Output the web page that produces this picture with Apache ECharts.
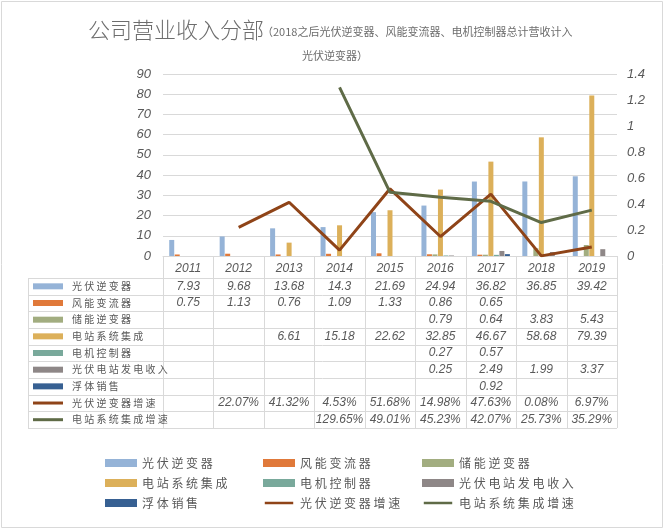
<!DOCTYPE html>
<html>
<head>
<meta charset="utf-8">
<script src="https://cdn.jsdelivr.net/npm/echarts@6/dist/echarts.min.js"></script>
<style>
  html, body { margin: 0; padding: 0; background: #fff; }
  #main { width: 665px; height: 531px; }
</style>
</head>
<body>
<div id="main"></div>
<script>
(function () {
  // 数据
  let years = ["2011", "2012", "2013", "2014", "2015", "2016", "2017", "2018", "2019"];
  let pvInverter = [7.93, 9.68, 13.68, 14.3, 21.69, 24.94, 36.82, 36.85, 39.42];
  let windConverter = [0.75, 1.13, 0.76, 1.09, 1.33, 0.86, 0.65, null, null];
  let storageInverter = [null, null, null, null, null, 0.79, 0.64, 3.83, 5.43];
  let stationIntegration = [null, null, 6.61, 15.18, 22.62, 32.85, 46.67, 58.68, 79.39];
  let motorController = [null, null, null, null, null, 0.27, 0.57, null, null];
  let pvPowerIncome = [null, null, null, null, null, 0.25, 2.49, 1.99, 3.37];
  let floatSales = [null, null, null, null, null, null, 0.92, null, null];
  let pvGrowth = [null, 0.2207, 0.4132, 0.0453, 0.5168, 0.1498, 0.4763, 0.0008, 0.0697];
  let stationGrowth = [null, null, null, 1.2965, 0.4901, 0.4523, 0.4207, 0.2573, 0.3529];
  let leftTicks = [0, 90, 10];
  let rightTicks = [0, 1.4, 0.2];

  let rows = [
    { name: "光伏逆变器", color: "#95b3d7", type: "bar", data: pvInverter },
    { name: "风能变流器", color: "#e0793a", type: "bar", data: windConverter },
    { name: "储能逆变器", color: "#a2ad80", type: "bar", data: storageInverter },
    { name: "电站系统集成", color: "#dcb05a", type: "bar", data: stationIntegration },
    { name: "电机控制器", color: "#79a99b", type: "bar", data: motorController },
    { name: "光伏电站发电收入", color: "#8e8787", type: "bar", data: pvPowerIncome },
    { name: "浮体销售", color: "#376092", type: "bar", data: floatSales },
    { name: "光伏逆变器增速", color: "#8f4418", type: "line", data: pvGrowth },
    { name: "电站系统集成增速", color: "#5f6b47", type: "line", data: stationGrowth }
  ];

  // 布局
  let gridLeft = 163, gridRight = 617, gridTop = 74, gridBottom = 256;
  let tableLeft = 28, headerBottom = 278, rowH = 16.67;
  let colW = (gridRight - gridLeft) / years.length;
  let lineColor = "#d9d9d9";
  let textColor = "#595959";
  let cnFont = "Noto Sans CJK SC";
  let numFont = "Liberation Sans";
  // 折线图例：细横条（上下两个空点撑开包围盒）
  let thinLineIcon = "path://M0,0L0.01,0M0,3L32,3L32,6L0,6ZM0,9L0.01,9";

  let dom = document.querySelector("#main");
  let myChart = echarts.init(dom);

  // 标题和数据表
  let graphics = [];
  graphics.push({
    type: "rect", shape: { x: 1.5, y: 1.5, width: 661, height: 526 },
    style: { fill: "none", stroke: "#d9d9d9", lineWidth: 1 }, silent: true
  });
  graphics.push({
    type: "text", left: 88, top: 19,
    style: { text: "公司营业收入分部", font: "300 22px " + cnFont, fill: "#6d6d6d" }
  });
  graphics.push({
    type: "text", left: 262, top: 26,
    style: { text: "（2018之后光伏逆变器、风能变流器、电机控制器总计营收计入", font: "11px " + cnFont, fill: "#6d6d6d" }
  });
  graphics.push({
    type: "text", left: 302, top: 50,
    style: { text: "光伏逆变器）", font: "11px " + cnFont, fill: "#6d6d6d" }
  });
  let tableBottom = headerBottom + rowH * rows.length;
  for (let k = 0; k <= years.length; k++) {
    let x = Math.round(gridLeft + k * colW) + 0.5;
    graphics.push({
      type: "line", shape: { x1: x, y1: gridBottom, x2: x, y2: tableBottom },
      style: { stroke: lineColor, lineWidth: 1 }, silent: true
    });
  }
  graphics.push({
    type: "line", shape: { x1: tableLeft + 0.5, y1: headerBottom, x2: tableLeft + 0.5, y2: tableBottom },
    style: { stroke: lineColor, lineWidth: 1 }, silent: true
  });
  for (let r = 0; r <= rows.length; r++) {
    let y = Math.round(headerBottom + r * rowH) + 0.5;
    graphics.push({
      type: "line", shape: { x1: tableLeft, y1: y, x2: gridRight, y2: y },
      style: { stroke: lineColor, lineWidth: 1 }, silent: true
    });
  }
  rows.forEach(function (row, r) {
    let cy = headerBottom + r * rowH + rowH / 2;
    if (row.type === "bar") {
      graphics.push({
        type: "rect", shape: { x: 33, y: cy - 3, width: 30, height: 6 },
        style: { fill: row.color }, silent: true
      });
    } else {
      graphics.push({
        type: "line", shape: { x1: 33, y1: cy, x2: 63, y2: cy },
        style: { stroke: row.color, lineWidth: 3 }, silent: true
      });
    }
    graphics.push({
      type: "text", x: 72, y: cy,
      style: { text: row.name.split("").join(" "), font: "10px " + cnFont, fill: textColor, verticalAlign: "middle" }
    });
    row.data.forEach(function (v, i) {
      if (v === null) return;
      let label = row.type === "line" ? (v * 100).toFixed(2) + "%" : String(v);
      graphics.push({
        type: "text", x: gridLeft + (i + 0.5) * colW, y: cy,
        style: { text: label, font: "italic 12px " + numFont, fill: textColor, align: "center", verticalAlign: "middle" }
      });
    });
  });

  let series = rows.map(function (row) {
    if (row.type === "bar") {
      return {
        name: row.name, type: "bar", data: row.data,
        barWidth: 5, barGap: "10%",
        itemStyle: { color: row.color }
      };
    }
    return {
      name: row.name, type: "line", yAxisIndex: 1, data: row.data,
      symbol: "none", lineStyle: { color: row.color, width: 3 },
      itemStyle: { color: row.color }
    };
  });

  function legendCol(names, left) {
    return {
      left: left, top: 452, orient: "vertical", itemGap: 8,
      itemWidth: 32, itemHeight: 8,
      textStyle: { color: textColor, fontFamily: cnFont, fontSize: 12 },
      formatter: function (n) { return n.split("").join(" "); },
      data: names.map(function (n) {
        let row = rows.filter(function (x) { return x.name === n; })[0];
        return row.type === "bar"
          ? { name: n, icon: "rect" }
          : { name: n, icon: thinLineIcon, itemStyle: { color: row.color } };
      })
    };
  }

  let options = {
    animation: false,
    textStyle: { fontFamily: numFont },
    grid: { left: gridLeft, right: 665 - gridRight, top: gridTop, bottom: 531 - gridBottom, containLabel: false },
    legend: [
      legendCol(["光伏逆变器", "电站系统集成", "浮体销售"], 100),
      legendCol(["风能变流器", "电机控制器", "光伏逆变器增速"], 258),
      legendCol(["储能逆变器", "光伏电站发电收入", "电站系统集成增速"], 417)
    ],
    xAxis: [{
      type: "category", data: years,
      axisTick: { show: false },
      axisLine: { lineStyle: { color: lineColor } },
      axisLabel: { color: textColor, fontStyle: "italic", fontSize: 12, margin: 7, fontFamily: numFont }
    }],
    yAxis: [{
      type: "value", min: leftTicks[0], max: leftTicks[1], interval: leftTicks[2],
      axisLine: { show: false }, axisTick: { show: false },
      axisLabel: { color: textColor, fontStyle: "italic", fontSize: 13, margin: 12, fontFamily: numFont },
      splitLine: { lineStyle: { color: lineColor } }
    }, {
      type: "value", min: rightTicks[0], max: rightTicks[1], interval: rightTicks[2],
      axisLine: { show: false }, axisTick: { show: false },
      axisLabel: { color: textColor, fontStyle: "italic", fontSize: 13, margin: 10, fontFamily: numFont },
      splitLine: { show: false }
    }],
    series: series,
    graphic: graphics
  };
  myChart.setOption(options);
  window.addEventListener("resize", () => {
    myChart.resize();
  });
})();
</script>
</body>
</html>
